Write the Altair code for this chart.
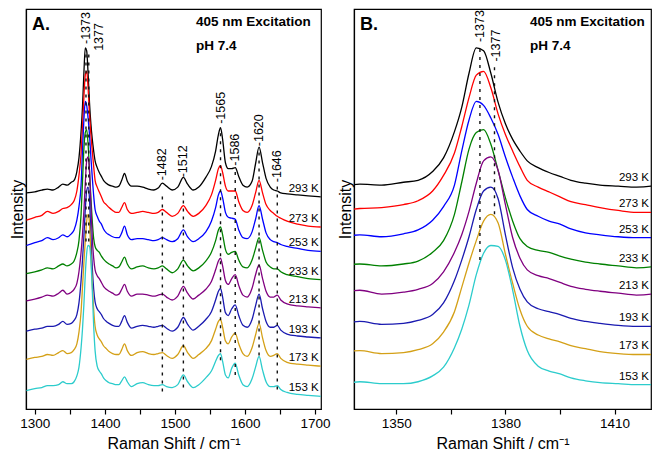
import altair as alt
import pandas as pd

# ---------------- data ----------------
wavenumbers = [1288, 1300, 1310, 1318, 1326, 1334, 1340, 1346, 1352, 1356,
               1360, 1363, 1366, 1368, 1370, 1372, 1374, 1376, 1378, 1380,
               1382, 1384, 1386, 1389, 1392, 1395, 1398, 1402, 1406, 1411,
               1416, 1420, 1424, 1428, 1432, 1438, 1446, 1454, 1462, 1470,
               1476, 1482, 1488, 1496, 1504, 1512, 1518, 1526, 1534, 1544,
               1552, 1558, 1562, 1565, 1568, 1572, 1576, 1581, 1586, 1591,
               1597, 1603, 1610, 1615, 1620, 1625, 1630, 1636, 1641, 1646,
               1651, 1660, 1675, 1690, 1708]

temperatures = ["293 K", "273 K", "253 K", "233 K", "213 K", "193 K", "173 K", "153 K"]
offsets = [218, 187, 162, 133, 104, 73, 44, 13]
line_colors = ["#000000", "#ff0000", "#0000ff", "#008000", "#800080", "#1a1ab0", "#d4a017", "#2ccccc"]

rel_293 = [4, 5, 7, 8, 7, 10, 13, 12, 15, 17, 26, 40, 67, 92, 127, 153, 150, 127, 97, 75,
           59, 47, 37, 30, 25, 21, 17, 14, 12, 11, 10, 11, 17, 24, 16, 11, 11, 10, 8, 7,
           9, 14, 11, 7, 10, 20, 13, 7, 10, 20, 31, 47, 64, 71, 59, 35, 29, 29, 30, 21,
           12, 10, 16, 34, 51, 35, 19, 10, 7, 6, 4, 3, 2, 1, 0]
rel_273 = [7, 10, 12, 16, 14, 16, 19, 20, 23, 27, 37, 53, 76, 103, 133, 156, 160, 143, 116, 95,
           78, 62, 48, 41, 36, 31, 26, 23, 20, 17, 15, 15, 20, 25, 18, 14, 15, 16, 15, 14,
           15, 18, 15, 11, 14, 22, 16, 11, 14, 22, 33, 48, 60, 63, 56, 42, 37, 37, 37, 26,
           17, 15, 22, 35, 48, 35, 23, 17, 14, 11, 9, 6, 3, 1, 0]
rel_253 = [6, 9, 11, 14, 12, 14, 17, 15, 18, 22, 32, 46, 68, 103, 135, 154, 150, 137, 120, 97,
           76, 57, 43, 36, 31, 28, 23, 19, 17, 15, 14, 14, 19, 26, 17, 12, 13, 13, 12, 11,
           12, 14, 12, 10, 13, 22, 15, 10, 13, 20, 31, 45, 58, 62, 55, 40, 35, 34, 33, 22,
           14, 13, 20, 33, 47, 33, 19, 12, 10, 9, 7, 5, 3, 1, 0]
rel_233 = [6, 8, 10, 12, 11, 14, 16, 14, 16, 19, 28, 40, 67, 100, 134, 151, 154, 139, 112, 84,
           60, 42, 34, 30, 28, 24, 21, 18, 16, 14, 12, 13, 18, 23, 16, 11, 13, 14, 12, 11,
           12, 14, 11, 7, 11, 20, 14, 9, 12, 19, 28, 40, 51, 54, 46, 31, 26, 28, 29, 20,
           13, 12, 20, 32, 43, 30, 18, 13, 11, 11, 8, 5, 3, 1, 0]
rel_213 = [7, 9, 11, 13, 12, 15, 18, 14, 16, 19, 25, 37, 57, 75, 99, 128, 151, 155, 141, 106,
           72, 51, 39, 33, 30, 26, 22, 19, 17, 15, 13, 14, 19, 24, 17, 12, 14, 14, 13, 12,
           13, 14, 11, 8, 12, 22, 15, 9, 13, 19, 27, 39, 48, 51, 43, 28, 24, 30, 34, 23,
           13, 11, 20, 34, 44, 30, 17, 11, 11, 13, 8, 4, 2, 1, 0]
rel_193 = [7, 9, 10, 12, 12, 14, 17, 14, 15, 18, 24, 36, 59, 80, 104, 132, 151, 155, 143, 106,
           72, 50, 37, 30, 27, 24, 20, 17, 15, 13, 12, 12, 17, 23, 16, 10, 12, 13, 12, 11,
           12, 13, 10, 7, 11, 21, 14, 8, 12, 19, 27, 39, 48, 51, 42, 26, 23, 30, 34, 23,
           13, 11, 19, 33, 45, 30, 17, 11, 11, 13, 8, 4, 2, 1, 0]
rel_173 = [7, 9, 10, 12, 11, 14, 16, 13, 14, 17, 23, 35, 56, 81, 106, 129, 149, 156, 147, 115,
           85, 58, 41, 32, 28, 25, 21, 18, 15, 13, 12, 12, 17, 23, 16, 11, 14, 15, 13, 12,
           13, 14, 11, 8, 12, 21, 14, 8, 12, 18, 26, 38, 46, 48, 40, 26, 23, 30, 34, 23,
           13, 10, 19, 32, 44, 29, 16, 10, 11, 13, 8, 4, 2, 1, 0]
rel_153 = [6, 8, 9, 11, 11, 12, 15, 13, 13, 15, 21, 30, 50, 69, 94, 125, 147, 155, 154, 140,
           109, 72, 47, 31, 26, 23, 19, 16, 14, 13, 12, 12, 16, 20, 15, 10, 13, 14, 12, 11,
           11, 12, 10, 9, 12, 22, 15, 9, 12, 19, 26, 36, 42, 44, 36, 22, 19, 29, 34, 22,
           12, 10, 18, 30, 41, 27, 15, 10, 10, 11, 7, 4, 2, 1, 0]
spectra = [rel_293, rel_273, rel_253, rel_233, rel_213, rel_193, rel_173, rel_153]

# peak markers (dashed guides) and their labels
guide_wn_A = [1373, 1377, 1482, 1512, 1565, 1586, 1620, 1646]
guide_lo_A = [172, 172, 18, 22, 50, 35, 55, 20]
guide_hi_A = [367, 365, 223, 225, 287, 245, 265, 232]
label_wn_A = [1373, 1392, 1482, 1512, 1565, 1586, 1620, 1646]
label_I_A = [375, 368, 235, 238, 293, 250, 270, 233]
label_txt_A = ["-1373", "1377", "-1482", "-1512", "-1565", "-1586", "-1620", "-1646"]

guide_wn_B = [1373, 1377]
guide_lo_B = [153, 200]
guide_hi_B = [370, 353]
label_wn_B = [1373, 1377.5]
label_I_B = [377, 357]
label_txt_B = ["-1373", "-1377"]

# ---------------- tables ----------------
rows = []
for t, off, rel in zip(temperatures, offsets, spectra):
    for wn, v in zip(wavenumbers, rel):
        rows.append({"T": t, "wn": wn, "I": off + v})
df = pd.DataFrame(rows)

FONT = "Liberation Sans"
XTITLE = "Raman Shift / cm\u207b\u00b9"
H = 400


def panel(xdom, width, ticks, mod, letter, head_x, gw, glo, ghi, lw, li, lt, tl_wn):
    xs = alt.Scale(domain=xdom, nice=False, zero=False)
    ys = alt.Scale(domain=[0, 411], nice=False, zero=False)
    xax = alt.Axis(values=ticks, format="d",
                   labelExpr=f"datum.value % {mod} == 0 ? datum.label : ''",
                   title=XTITLE, titlePadding=6)
    yax = alt.Axis(title="Intensity", labels=False, ticks=False, titlePadding=1)

    def X(f):
        return alt.X(f"{f}:Q", scale=xs, axis=xax)

    def Y(f):
        return alt.Y(f"{f}:Q", scale=ys, axis=yax)

    lines = alt.Chart(df).mark_line(interpolate="monotone", strokeWidth=1.3, clip=True).encode(
        x=X("wn"), y=Y("I"),
        color=alt.Color("T:N", scale=alt.Scale(domain=temperatures, range=line_colors), legend=None),
        detail="T:N", order=alt.Order("wn:Q"))

    gdf = pd.DataFrame({"wn": gw, "lo": glo, "hi": ghi})
    guides = alt.Chart(gdf).mark_rule(strokeDash=[3, 5], strokeWidth=1.4, color="#111").encode(
        x=X("wn"), y=Y("lo"), y2="hi:Q")

    ldf = pd.DataFrame({"wn": lw, "I": li, "txt": lt})
    plabels = alt.Chart(ldf).mark_text(angle=270, align="left", baseline="middle",
                                       font=FONT, fontSize=12.5, color="black").encode(
        x=X("wn"), y=Y("I"), text="txt:N")

    tdf = df[df["wn"] == tl_wn]
    tlabels = alt.Chart(tdf).mark_text(align="right", baseline="alphabetic", dx=-2, dy=-5,
                                       font=FONT, fontSize=11.5, color="black").encode(
        x=X("wn"), y=Y("I"), text="T:N")

    one = pd.DataFrame({"k": [0]})
    t_letter = alt.Chart(one).mark_text(align="left", baseline="alphabetic", font=FONT,
                                        fontSize=18, fontWeight="bold", text=letter).encode(
        x=alt.value(6), y=alt.value(21))
    t_exc = alt.Chart(one).mark_text(align="left", baseline="alphabetic", font=FONT,
                                     fontSize=13.5, fontWeight="bold", text="405 nm Excitation").encode(
        x=alt.value(head_x), y=alt.value(17))
    t_ph = alt.Chart(one).mark_text(align="left", baseline="alphabetic", font=FONT,
                                    fontSize=13.5, fontWeight="bold", text="pH 7.4").encode(
        x=alt.value(head_x), y=alt.value(41))

    return alt.layer(lines, guides, plabels, tlabels, t_letter, t_exc, t_ph).properties(
        width=width, height=H)


A = panel([1287.4, 1708.4], 295, list(range(1300, 1701, 50)), 100, "A.", 170,
          guide_wn_A, guide_lo_A, guide_hi_A, label_wn_A, label_I_A, label_txt_A, 1708)
B = panel([1338.4, 1420], 297, [1350, 1365, 1380, 1395, 1410], 30, "B.", 176,
          guide_wn_B, guide_lo_B, guide_hi_B, label_wn_B, label_I_B, label_txt_B, 1420)

chart = alt.hconcat(A, B, spacing=33, bounds="flush", padding=0).configure_view(
    stroke="black", strokeWidth=1.2
).configure_axis(
    domainColor="black", domainWidth=1.2, tickColor="black", tickWidth=1.2, tickSize=5,
    labelColor="black", titleColor="black", labelFont=FONT, titleFont=FONT,
    labelFontSize=13.5, titleFontSize=16, titleFontWeight="normal", grid=False, labelPadding=2
)

chart.save("out.html", embed_options={"renderer": "svg", "actions": False})
